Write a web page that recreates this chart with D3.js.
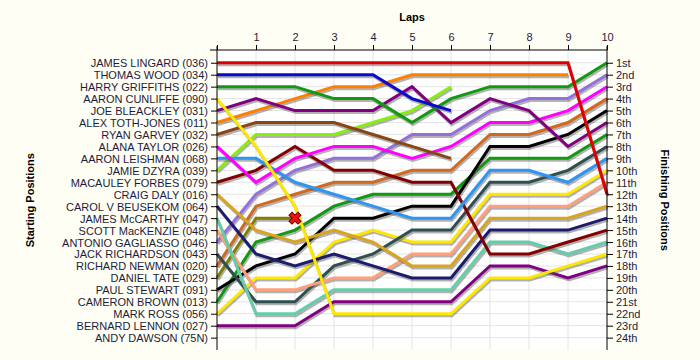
<!DOCTYPE html>
<html>
<head>
<meta charset="utf-8">
<script src="https://cdn.jsdelivr.net/npm/d3@7"></script>
<style>
  body { margin: 0; background: #fffef4; }
  svg { display: block; font-family: "Liberation Sans", Arial, sans-serif; }
  .axis text { font-size: 11px; fill: #1c1c3c; }
  .axis path, .axis line { stroke: #000; }
  .title { font-size: 11px; font-weight: bold; fill: #000; }
</style>
</head>
<body>
<svg></svg>
<script>
// starting grid, top to bottom
const riders = [
  'JAMES LINGARD (036)', 'THOMAS WOOD (034)', 'HARRY GRIFFITHS (022)', 'AARON CUNLIFFE (090)',
  'JOE BLEACKLEY (031)', 'ALEX TOTH-JONES (011)', 'RYAN GARVEY (032)', 'ALANA TAYLOR (026)',
  'AARON LEISHMAN (068)', 'JAMIE DZYRA (039)', 'MACAULEY FORBES (079)', 'CRAIG DALY (016)',
  'CAROL V BEUSEKOM (064)', 'JAMES McCARTHY (047)', 'SCOTT MacKENZIE (048)', 'ANTONIO GAGLIASSO (046)',
  'JACK RICHARDSON (043)', 'RICHARD NEWMAN (020)', 'DANIEL TATE (029)', 'PAUL STEWART (091)',
  'CAMERON BROWN (013)', 'MARK ROSS (056)', 'BERNARD LENNON (027)', 'ANDY DAWSON (75N)'
];

// position at the end of each lap (index 0 = start)
const positions = [
  [1, 1, 1, 1, 1, 1, 1, 1, 1, 1, 12],
  [2, 2, 2, 2, 2, 4, 5],
  [3, 3, 3, 4, 4, 6, 4, 3, 3, 3, 1],
  [4, 8, 13, 22, 22, 22, 22, 19, 19, 18, 17],
  [5, 4, 5, 5, 5, 3, 6, 4, 5, 8, 6],
  [6, 5, 4, 3, 3, 2, 2, 2, 2, 2],
  [7, 6, 6, 6, 7, 8, 9],
  [8, 11, 9, 8, 8, 9, 8, 6, 6, 5, 3],
  [9, 9, 11, 12, 13, 14, 14, 10, 10, 11, 9],
  [10, 7, 7, 7, 6, 5, 3],
  [11, 10, 8, 10, 10, 11, 11, 17, 17, 16, 15],
  [12, 15, 16, 15, 16, 18, 18, 14, 14, 14, 13],
  [13, 17, 18, 17, 18, 19, 19, 15, 15, 15, 14],
  [14, 22, 22, 20, 20, 20, 20, 16, 16, 17, 16],
  [15, 20, 20, 19, 19, 17, 17, 13, 13, 13, 11],
  [16, 12, 10, 9, 9, 7, 7, 5, 4, 4, 2],
  [17, 21, 21, 18, 17, 15, 15, 11, 11, 10, 8],
  [18, 13, 12, 11, 11, 10, 10, 7, 7, 6, 4],
  [19, 14, 14],
  [20, 18, 17, 14, 14, 13, 13, 8, 8, 7, 5],
  [21, 16, 15, 13, 12, 12, 12, 9, 9, 9, 7],
  [22, 19, 19, 16, 15, 16, 16, 12, 12, 12, 10],
  [23, 23, 23, 21, 21, 21, 21, 18, 18, 19, 18],
  []
];

// riders that crashed out (index, lap)
const crashes = [[18, 2]];

const lapTicks = [0, 1, 2, 3, 4, 5, 6, 7, 8, 9, 10];
const finishLabels = ['1st', '2nd', '3rd', '4th', '5th', '6th', '7th', '8th', '9th', '10th', '11th', '12th',
  '13th', '14th', '15th', '16th', '17th', '18th', '19th', '20th', '21st', '22nd', '23rd', '24th'];

const colors = ['#e00000', '#0a0acc', '#129912', '#ffe800', '#800080', '#ff8000', '#8b4513', '#ff00ff',
  '#2e96f0', '#88ee11', '#840000', '#d9a520', '#1c1c6e', '#66cdaa', '#ffa07a', '#9370db',
  '#2f4f4f', '#d2691e', '#808000', '#000000', '#129912', '#ffe800', '#800080', '#999999'];

const width = 700;
const height = 360;
const x = d3.scaleLinear().domain([0, 10]).range([217, 607]);
const y = d3.scaleLinear().domain([0, 25]).range([50.8, 349.6]);
const rows = d3.range(1, 25);

const svg = d3.select('svg')
  .attr('width', width)
  .attr('height', height);

svg.append('rect')
  .attr('x', x(0))
  .attr('y', 50)
  .attr('width', x(10) - x(0))
  .attr('height', 300)
  .style('fill', '#fff');

// grid
svg.append('g')
  .selectAll('line')
  .data(rows)
  .enter().append('line')
  .attr('x1', x(0)).attr('x2', x(10))
  .attr('y1', d => y(d)).attr('y2', d => y(d))
  .style('stroke', '#e4e4e4');

svg.append('g')
  .selectAll('line')
  .data(lapTicks.slice(1, 10))
  .enter().append('line')
  .attr('x1', d => x(d)).attr('x2', d => x(d))
  .attr('y1', 50).attr('y2', 350)
  .style('stroke', '#e4e4e4');

// laps
const line = d3.line()
  .x((d, i) => x(i))
  .y(d => y(d));

const order = d3.range(positions.length).reverse().filter(i => positions[i].length > 1);

const lines = svg.append('g');
order.forEach(i => {
  lines.append('path')
    .attr('d', line(positions[i]))
    .attr('transform', 'translate(1,2)')
    .style('fill', 'none')
    .style('stroke', '#555')
    .style('stroke-opacity', 0.45)
    .style('stroke-width', 3);
  lines.append('path')
    .attr('d', line(positions[i]))
    .style('fill', 'none')
    .style('stroke', colors[i])
    .style('stroke-width', 3);
});

svg.append('g')
  .selectAll('path')
  .data(crashes)
  .enter().append('path')
  .attr('d', d3.symbol().type(d3.symbolCross).size(90))
  .attr('transform', d => `translate(${x(d[1])}, ${y(positions[d[0]][d[1]])}) rotate(45)`)
  .style('fill', '#ee1111')
  .style('stroke', '#700000')
  .style('stroke-width', 1);

// axes
svg.append('g')
  .attr('class', 'axis')
  .attr('transform', 'translate(0, 50)')
  .call(d3.axisTop(x).tickValues(lapTicks).tickSize(5).tickSizeOuter(0)
    .tickFormat(d => d === 0 ? '' : d));

svg.append('line')
  .attr('x1', 210).attr('x2', x(10))
  .attr('y1', 50).attr('y2', 50)
  .style('stroke', '#000');

svg.append('g')
  .attr('class', 'axis')
  .attr('transform', `translate(${x(0)}, 0)`)
  .call(d3.axisLeft(y).tickValues(rows).tickSize(6).tickSizeOuter(0)
    .tickFormat(d => riders[d - 1]));

svg.append('g')
  .attr('class', 'axis')
  .attr('transform', `translate(${x(10)}, 0)`)
  .call(d3.axisRight(y).tickValues(rows).tickSize(6).tickSizeOuter(0)
    .tickFormat(d => finishLabels[d - 1]));

svg.selectAll('.axis .domain').remove();
svg.append('line')
  .attr('x1', x(0)).attr('x2', x(0))
  .attr('y1', 46).attr('y2', 350)
  .style('stroke', '#000');
svg.append('line')
  .attr('x1', x(10)).attr('x2', x(10))
  .attr('y1', 46).attr('y2', 350)
  .style('stroke', '#000');

svg.selectAll('.axis text').attr('dy', null).attr('dominant-baseline', 'central');
svg.selectAll('.axis text').filter(function () { return this.parentNode.parentNode.getAttribute('transform') === 'translate(0, 50)'; })
  .attr('dominant-baseline', null).attr('y', -9);

// titles
svg.append('text')
  .attr('class', 'title')
  .attr('x', (x(0) + x(10)) / 2)
  .attr('y', 21)
  .attr('text-anchor', 'middle')
  .text('Laps');

svg.append('text')
  .attr('class', 'title')
  .attr('transform', `translate(34, ${y(12.5)}) rotate(-90)`)
  .attr('text-anchor', 'middle')
  .text('Starting Positions');

svg.append('text')
  .attr('class', 'title')
  .attr('transform', `translate(661, ${y(12.5)}) rotate(90)`)
  .attr('text-anchor', 'middle')
  .text('Finishing Positions');
</script>
</body>
</html>
